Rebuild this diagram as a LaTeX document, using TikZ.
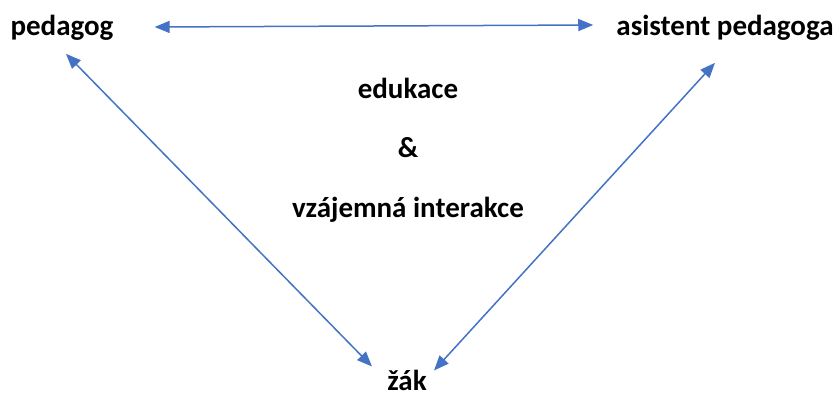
\documentclass[tikz,border=0pt]{standalone}
\usepackage{fontspec}
\setmainfont{Carlito}
\usepackage{tikz}
\usetikzlibrary{positioning,calc,arrows.meta}
\definecolor{linkblue}{HTML}{4472C4}

\begin{document}
\begin{tikzpicture}[x=1pt,y=1pt,
	lbl/.style={inner sep=0pt,font=\fontsize{29}{34}\selectfont\bfseries},
	link/.style={draw=linkblue,line width=1.5pt,{Triangle[length=15pt,width=12pt]}-{Triangle[length=15pt,width=12pt]}}]
				\useasboundingbox (0,0) rectangle (836,-396);
				\node[lbl] (ped) at (62,-28) {pedagog};
				\node[lbl] (asi) at (725,-28) {asistent pedagoga};
				\node[lbl] (zak) at (407,-380) {žák};
				\node[lbl] (edu) at (408,-88) {edukace};
				\node[lbl] (amp) at (408,-148) {\&};
				\node[lbl] (vza) at (408,-210) {vzájemná interakce};
				\draw[link] ([xshift=41pt,yshift=1pt]ped.east) -- ([xshift=-23pt,yshift=3pt]asi.west);
				\draw[link] ([xshift=4pt,yshift=-13pt]ped.south) -- ([xshift=-35pt,yshift=3pt]zak.north);
				\draw[link] ([xshift=-10pt,yshift=-22pt]asi.south) -- ([xshift=27pt,yshift=-1pt]zak.north);
\end{tikzpicture}
\end{document}
